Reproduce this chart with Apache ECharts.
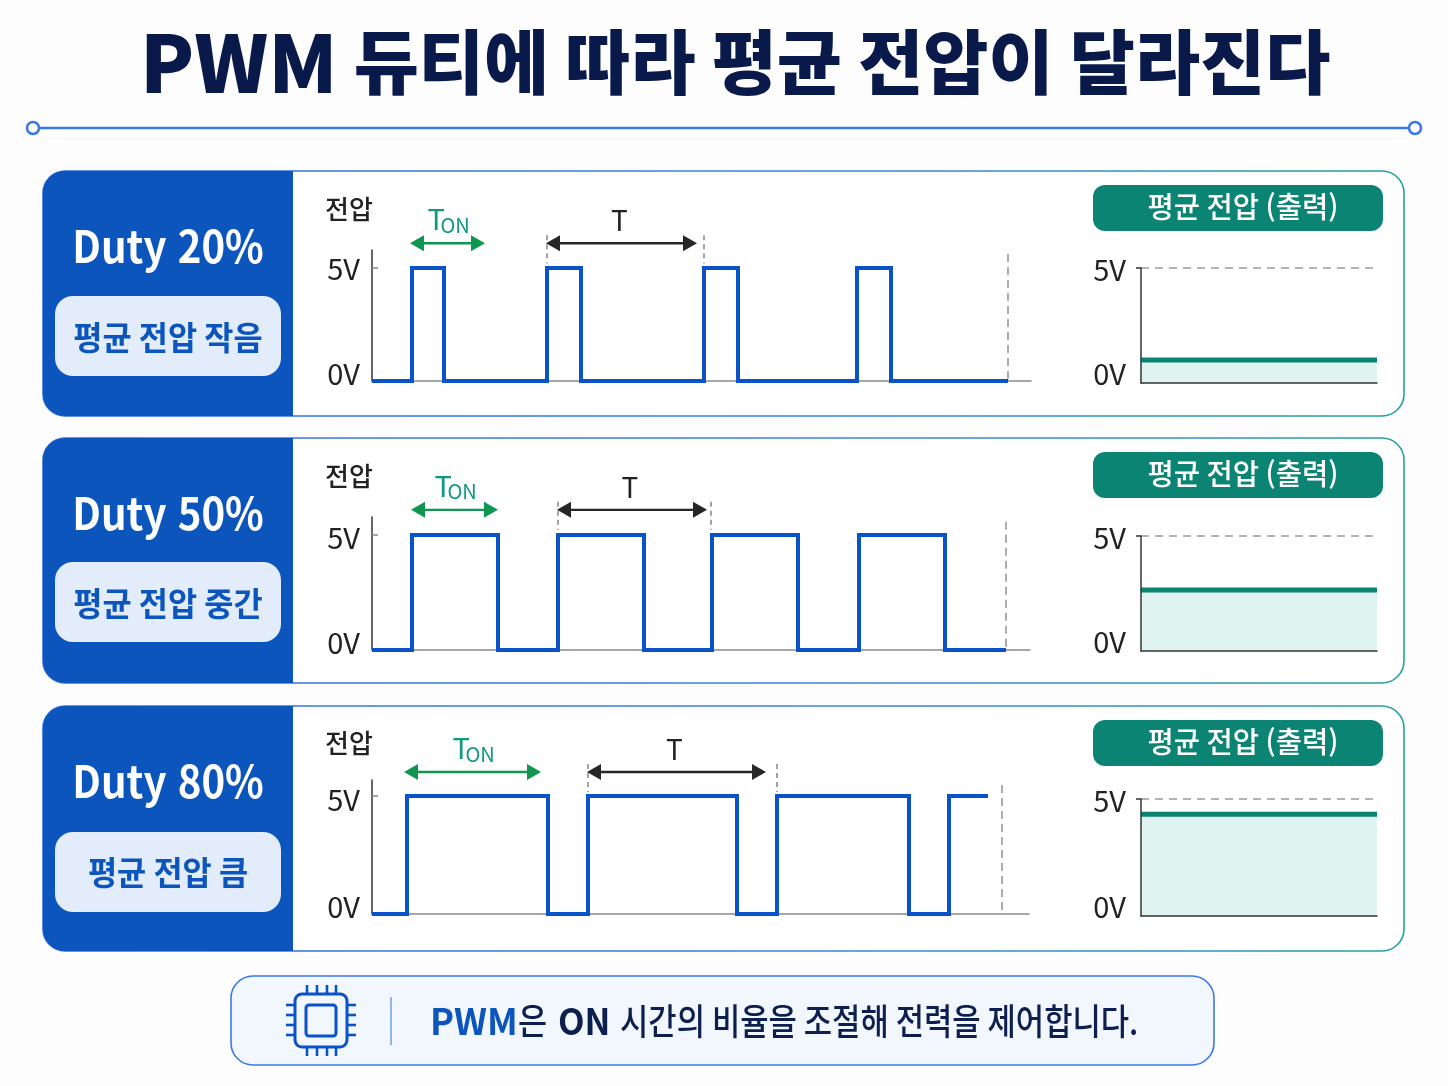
<!DOCTYPE html>
<html lang="ko">
<head>
<meta charset="utf-8">
<style>html,body{margin:0;padding:0;background:#fdfdfe}#c{width:1448px;height:1086px}</style>
<script src="https://cdn.jsdelivr.net/npm/echarts@6/dist/echarts.min.js"></script>
</head>
<body>
<div id="c"></div>
<script>
// ---------- text ----------
const titleLatin = 'PWM';
const titleKorean = ' 듀티에 따라 평균 전압이 달라진다';
const dutyLabels = ['Duty 20%', 'Duty 50%', 'Duty 80%'];
const pillLabels = ['평균 전압 작음', '평균 전압 중간', '평균 전압 큼'];
const yAxisName = '전압';
const avgTitle = '평균 전압 (출력)';
const tickVolts = [0, 5];
const noteParts = ['PWM', '은', 'ON', '시간의 비율을 조절해 전력을 제어합니다.'];

// ---------- PWM switching edges (time offset, alternating rise / fall) ----------
const edges20 = [40, 72, 175, 209, 332, 366, 485, 519];
const edges50 = [40, 126, 186, 272, 340, 426, 487, 573];
const edges80 = [35, 176, 216, 365, 405, 537, 577];
const waveEnd = [636, 634, 616];
const axisEnd = [659, 658, 657];

// ---------- annotations ----------
const tonSpans = [[38, 113], [39, 126], [32, 169]];
const periodSpans = [[174, 325], [185, 335], [215, 394]];
const periodGuides = [[175, 332], [186, 339], [216, 405]];
const arrowVolts = [6.1, 6.09, 6.02];
const windowEnd = [636, 634, 630];
const windowTopVolts = [5.62, 5.57, 5.47];

// ---------- average output voltage ----------
const avgVolts = [1.0, 2.65, 4.35];

// ---------- axis tops (volts) ----------
const waveMax = [5.8, 5.78, 5.68];

// ---------- layout ----------
const F = '"Noto Sans CJK KR","Noto Sans",sans-serif';
const panelTop = [171, 438, 706];
const panelH = 245;
const waveBox = [[250, 381], [517, 650], [780, 914]];
const avgBox = [[268, 383], [536, 651], [799, 916]];
const BLUE = '#0b55bd', LINE = '#0a52c8', TEAL = '#0b8474', NAVY = '#0c1f4e';

function wavePoints(edges, end) {
  const p = [[0, 0]];
  let lvl = 0;
  edges.forEach(x => { p.push([x, lvl]); lvl = lvl ? 0 : 5; p.push([x, lvl]); });
  p.push([end, lvl]);
  return p;
}
function head(tip, y, dir, color) {
  return { type: 'polygon', shape: { points: [[tip, y], [tip + dir * 14, y - 8], [tip + dir * 14, y + 8]] }, style: { fill: color } };
}
function arrow(x0, x1, y, color) {
  return [
    { type: 'line', shape: { x1: x0 + 8, y1: y, x2: x1 - 8, y2: y }, style: { stroke: color, lineWidth: 2.4 } },
    head(x0, y, 1, color), head(x1, y, -1, color)
  ];
}
function annotate(i) {
  return function (params, api) {
    const c = (x, v) => api.coord([x, v]);
    const ay = c(0, arrowVolts[i])[1];
    const t0 = c(tonSpans[i][0], 0)[0], t1 = c(tonSpans[i][1], 0)[0];
    const p0 = c(periodSpans[i][0], 0)[0], p1 = c(periodSpans[i][1], 0)[0];
    const kids = [];
    kids.push(...arrow(t0, t1, ay, '#0f9650'), ...arrow(p0, p1, ay, '#262626'));
    periodGuides[i].forEach(x => {
      const px = c(x, 0)[0];
      kids.push({ type: 'line', shape: { x1: px, y1: ay - 8, x2: px, y2: ay + 20 }, style: { stroke: '#666', lineWidth: 1.2, lineDash: [5, 4] } });
    });
    const e = c(windowEnd[i], windowTopVolts[i]), b = c(windowEnd[i], 0);
    kids.push({ type: 'line', shape: { x1: e[0], y1: e[1], x2: b[0], y2: b[1] }, style: { stroke: '#8a8a8a', lineWidth: 1.4, lineDash: [8, 5] } });
    const mid = (t0 + t1) / 2;
    kids.push({ type: 'text', style: { x: mid - 20, y: ay - 24, text: 'T', font: '400 29px ' + F, fill: '#0f9a80', align: 'left', verticalAlign: 'middle' } });
    kids.push({ type: 'text', style: { x: mid - 7, y: ay - 18, text: 'ON', font: '400 20px ' + F, fill: '#0f9a80', align: 'left', verticalAlign: 'middle' } });
    kids.push({ type: 'text', style: { x: (p0 + p1) / 2 - 2, y: ay - 23, text: 'T', font: '400 28px ' + F, fill: '#222', align: 'center', verticalAlign: 'middle' } });
    return { type: 'group', children: kids };
  };
}
function richFor(lowPad, upPad) {
  return {
    low: { fontFamily: F, fontSize: 29, color: '#222', padding: [0, 0, lowPad, 0] },
    up: { fontFamily: F, fontSize: 29, color: '#222', padding: [upPad, 0, 0, 0] }
  };
}
const waveUpPad = [2, 6, 8];
const labelFmt = v => (v === 0 ? '{low|0V}' : '{up|5V}');

const grid = [], xAxis = [], yAxis = [], series = [];
[edges20, edges50, edges80].forEach((edges, i) => {
  // waveform
  grid.push({ left: 372, width: axisEnd[i], top: waveBox[i][0], height: waveBox[i][1] - waveBox[i][0] });
  xAxis.push({ gridIndex: grid.length - 1, type: 'value', min: 0, max: axisEnd[i], axisLine: { lineStyle: { color: '#8a8a8a', width: 1.5 } }, axisTick: { show: false }, axisLabel: { show: false }, splitLine: { show: false } });
  yAxis.push({ gridIndex: grid.length - 1, type: 'value', min: 0, max: waveMax[i], axisLine: { show: true, lineStyle: { color: '#333', width: 1.5 } },
    axisTick: { show: true, inside: true, length: 6, customValues: [5], lineStyle: { color: '#888', width: 1.5 } },
    axisLabel: { customValues: tickVolts, formatter: labelFmt, rich: richFor(14, waveUpPad[i]), margin: 12 }, splitLine: { show: false } });
  series.push({ type: 'line', xAxisIndex: grid.length - 1, yAxisIndex: grid.length - 1, data: wavePoints(edges, waveEnd[i]), showSymbol: false, symbol: 'none', clip: false, animation: false, z: 4,
    lineStyle: { color: LINE, width: 4, join: 'miter', cap: 'butt' } });
  series.push({ type: 'custom', xAxisIndex: grid.length - 1, yAxisIndex: grid.length - 1, data: [[0, 0]], renderItem: annotate(i), clip: false, animation: false, silent: true, z: 3 });
  // average
  grid.push({ left: 1141, width: 236, top: avgBox[i][0], height: avgBox[i][1] - avgBox[i][0] });
  xAxis.push({ gridIndex: grid.length - 1, type: 'value', min: 0, max: 1, z: 6, axisLine: { lineStyle: { color: '#333', width: 1.5 } }, axisTick: { show: false }, axisLabel: { show: false }, splitLine: { show: false } });
  yAxis.push({ gridIndex: grid.length - 1, type: 'value', min: 0, max: 5, z: 6, axisLine: { show: true, lineStyle: { color: '#333', width: 1.5 } },
    axisTick: { show: true, length: 5, customValues: [5], lineStyle: { color: '#333', width: 1.5 } },
    axisLabel: { customValues: tickVolts, formatter: labelFmt, rich: richFor(18, 3), margin: 15 }, splitLine: { show: false } });
  series.push({ type: 'line', xAxisIndex: grid.length - 1, yAxisIndex: grid.length - 1, data: [[0, 5], [1, 5]], symbol: 'none', animation: false, clip: false, z: 2,
    lineStyle: { color: '#9a9a9a', width: 1.5, type: [8, 6] } });
  series.push({ type: 'line', xAxisIndex: grid.length - 1, yAxisIndex: grid.length - 1, data: [[0, avgVolts[i]], [1, avgVolts[i]]], symbol: 'none', animation: false, clip: false, z: 3,
    lineStyle: { color: TEAL, width: 5 }, areaStyle: { color: '#dff3f1', opacity: 1 } });
});

// ---------- decoration ----------
const g = [];
const BG = -5;
function text(x, y, t, font, fill, sx, align) {
  g.push({ type: 'text', z: BG + 3, scaleX: sx || 1, originX: x, originY: y,
    style: { x, y, text: t, font: font + ' ' + F, fill, align: align || 'center', verticalAlign: 'middle' } });
}
// header rule
g.push({ type: 'line', z: BG, shape: { x1: 33, y1: 128, x2: 1415, y2: 128 }, style: { stroke: '#3b78e7', lineWidth: 2.5 } });
[33, 1415].forEach(x => g.push({ type: 'circle', z: BG + 1, shape: { cx: x, cy: 128, r: 6 }, style: { fill: '#fff', stroke: '#3b78e7', lineWidth: 2.5 } }));

panelTop.forEach((top, i) => {
  g.push({ type: 'rect', z: BG, shape: { x: 43, y: top, width: 1361, height: panelH, r: 22 },
    style: { fill: '#fff', lineWidth: 1.6, stroke: { type: 'linear', x: 0, y: 0, x2: 1, y2: 0, colorStops: [{ offset: 0, color: '#2f6fdc' }, { offset: 0.55, color: '#3f7fe0' }, { offset: 1, color: '#22a39a' }] } } });
  g.push({ type: 'rect', z: BG + 1, shape: { x: 43, y: top, width: 250, height: panelH, r: [22, 0, 0, 22] }, style: { fill: BLUE } });
  g.push({ type: 'rect', z: BG + 2, shape: { x: 55, y: top + 125 + (i === 2 ? 1 : 0) - (i === 1 ? 1 : 0), width: 226, height: 80, r: 18 }, style: { fill: '#e2ecfa' } });
  text(168, [246, 513, 781][i], dutyLabels[i], '700 44px', '#fff', 0.913);
  text(168, [337, 603, 872][i], pillLabels[i], '700 33px', BLUE, 0.96);
  text(349, [209, 476, 743][i], yAxisName, '500 26px', '#222');
  g.push({ type: 'rect', z: BG + 2, shape: { x: 1093, y: top + 14, width: 290, height: 46, r: 12 }, style: { fill: TEAL } });
  text(1243, top + 36, avgTitle, '500 29px', '#fff', 0.985);
});

// footer note
g.push({ type: 'rect', z: BG, shape: { x: 231, y: 976, width: 983, height: 89, r: 22 }, style: { fill: '#f2f6fd', stroke: '#3b78e7', lineWidth: 1.6 } });
g.push({ type: 'rect', z: BG + 1, shape: { x: 295, y: 994, width: 52, height: 53, r: 7 }, style: { fill: 'none', stroke: LINE, lineWidth: 3 } });
g.push({ type: 'rect', z: BG + 1, shape: { x: 306, y: 1005, width: 30, height: 31, r: 3 }, style: { fill: 'none', stroke: LINE, lineWidth: 3 } });
[307, 317, 327, 336].forEach(x => {
  g.push({ type: 'line', z: BG + 1, shape: { x1: x, y1: 985, x2: x, y2: 993 }, style: { stroke: LINE, lineWidth: 2.6 } });
  g.push({ type: 'line', z: BG + 1, shape: { x1: x, y1: 1048, x2: x, y2: 1056 }, style: { stroke: LINE, lineWidth: 2.6 } });
});
[1005, 1015, 1025, 1035].forEach(y => {
  g.push({ type: 'line', z: BG + 1, shape: { x1: 286, y1: y, x2: 294, y2: y }, style: { stroke: LINE, lineWidth: 2.6 } });
  g.push({ type: 'line', z: BG + 1, shape: { x1: 348, y1: y, x2: 356, y2: y }, style: { stroke: LINE, lineWidth: 2.6 } });
});
g.push({ type: 'line', z: BG + 1, shape: { x1: 391, y1: 997, x2: 391, y2: 1045 }, style: { stroke: '#6fa0dc', lineWidth: 1.5 } });
text(430, 1021, noteParts[0], '700 36px', BLUE, 1, 'left');
text(518, 1021, noteParts[1], '500 36px', NAVY, 0.88, 'left');
text(558, 1021, noteParts[2], '700 36px', NAVY, 0.96, 'left');
text(620, 1021, noteParts[3], '500 36px', NAVY, 0.855, 'left');

const chart = echarts.init(document.getElementById('c'), null, { renderer: 'canvas' });
chart.setOption({
  backgroundColor: '#fdfdfe',
  animation: false,
  title: { text: '{a|' + titleLatin + '}{b|' + titleKorean + '}', left: 135, top: 18,
    textStyle: { rich: {
      a: { fontFamily: F, fontSize: 79, fontWeight: 900, color: '#08194a' },
      b: { fontFamily: F, fontSize: 70.8, fontWeight: 900, color: '#08194a' } } } },
  grid, xAxis, yAxis, series,
  graphic: { elements: g }
});
</script>
</body>
</html>
